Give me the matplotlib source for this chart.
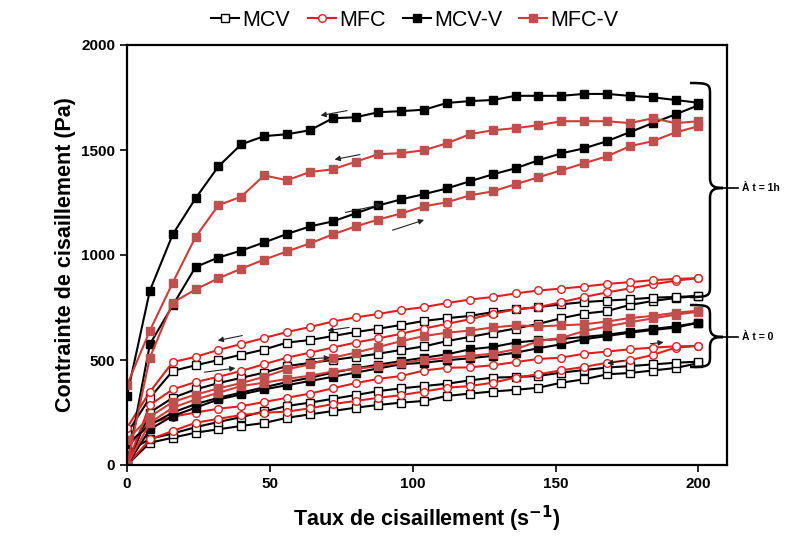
import matplotlib
matplotlib.use('Agg')
import matplotlib.pyplot as plt
from matplotlib.path import Path
from matplotlib.patches import PathPatch

plt.rcParams['font.family'] = ['Liberation Sans', 'DejaVu Sans']

# taux de cisaillement (s-1)
shear = [0, 8, 16, 24, 32, 40, 48, 56, 64, 72, 80, 88, 96, 104, 112, 120, 128,
         136, 144, 152, 160, 168, 176, 184, 192, 200]

# contrainte (Pa) - a t = 1h, montee / descente
mcvv_1h_down = [330, 830, 1098, 1270, 1422, 1527, 1566, 1575, 1594, 1651, 1656, 1680, 1685,
                1692, 1724, 1733, 1738, 1758, 1758, 1758, 1767, 1767, 1758, 1751, 1738, 1725]
mcvv_1h_up = [0, 575, 760, 943, 988, 1021, 1060, 1100, 1136, 1160, 1198, 1236, 1265,
              1290, 1317, 1351, 1384, 1413, 1451, 1484, 1508, 1542, 1585, 1628, 1670, 1713]
mfcv_1h_down = [380, 640, 868, 1086, 1237, 1278, 1379, 1356, 1395, 1408, 1444, 1480, 1485,
                1499, 1532, 1575, 1594, 1604, 1618, 1637, 1637, 1637, 1628, 1651, 1628, 1637]
mfcv_1h_up = [0, 511, 773, 836, 889, 935, 978, 1017, 1055, 1098, 1136, 1169, 1198,
              1232, 1251, 1284, 1303, 1337, 1370, 1403, 1437, 1470, 1518, 1542, 1584, 1613]
mfc_1h_down = [178, 348, 490, 515, 548, 576, 605, 633, 657, 683, 703, 719, 738,
               752, 771, 788, 800, 817, 831, 840, 850, 862, 871, 880, 886, 890]
mfc_1h_up = [0, 286, 360, 395, 420, 448, 480, 511, 535, 559, 583, 603, 625,
             650, 672, 694, 720, 741, 752, 775, 800, 822, 841, 860, 878, 890]
mcv_1h_down = [150, 320, 448, 475, 500, 525, 550, 583, 595, 614, 633, 649, 667,
               686, 699, 710, 728, 741, 752, 765, 776, 783, 789, 797, 800, 805]
mcv_1h_up = [0, 250, 320, 360, 390, 415, 440, 471, 486, 500, 515, 530, 548,
             565, 590, 610, 630, 650, 672, 699, 721, 733, 762, 781, 795, 805]

# a t = 0
mfcv_0_down = [120, 230, 300, 335, 365, 390, 420, 456, 479, 511, 535, 562, 590,
               614, 630, 640, 655, 665, 660, 665, 670, 683, 700, 710, 725, 735]
mfcv_0_up = [0, 201, 273, 312, 344, 376, 392, 410, 425, 445, 458, 470, 487,
             500, 511, 520, 530, 551, 590, 605, 638, 660, 680, 698, 716, 730]
mcvv_0_down = [100, 190, 250, 290, 320, 345, 370, 395, 415, 440, 460, 478, 495,
               511, 527, 551, 562, 583, 594, 600, 610, 620, 635, 648, 660, 678]
mcvv_0_up = [0, 170, 233, 273, 312, 336, 360, 380, 400, 420, 440, 460, 480,
             487, 499, 508, 520, 535, 556, 575, 599, 614, 630, 643, 654, 678]
mfc_0_down = [83, 200, 230, 250, 268, 280, 300, 320, 340, 365, 390, 410, 424,
              450, 463, 465, 475, 490, 505, 511, 530, 540, 551, 559, 565, 567]
mfc_0_up = [0, 122, 162, 201, 220, 238, 249, 254, 270, 290, 305, 320, 333,
            350, 368, 376, 392, 416, 432, 451, 467, 487, 499, 524, 559, 567]
mcv_0_down = [60, 125, 150, 180, 205, 228, 255, 281, 297, 315, 333, 352, 365,
              376, 387, 403, 416, 419, 424, 440, 452, 464, 471, 479, 487, 492]
mcv_0_up = [0, 106, 130, 154, 170, 186, 200, 225, 241, 257, 273, 286, 297,
            305, 329, 340, 350, 358, 368, 392, 408, 432, 438, 450, 462, 485]

labels = ['MCV', 'MFC', 'MCV-V', 'MFC-V']

styles = {
    'MCV': dict(color='black', marker='s', mfc='white', mec='black', ms=5.5),
    'MFC': dict(color='#e01e1e', marker='o', mfc='white', mec='#e01e1e', ms=5.5),
    'MCV-V': dict(color='black', marker='s', mfc='black', mec='black', ms=6),
    'MFC-V': dict(color='#d43a36', marker='s', mfc='#c0504d', mec='#c0504d', ms=6),
}

curves = [
    ('MCV', mcv_0_up), ('MCV', mcv_0_down), ('MCV', mcv_1h_up), ('MCV', mcv_1h_down),
    ('MFC', mfc_0_up), ('MFC', mfc_0_down), ('MFC', mfc_1h_up), ('MFC', mfc_1h_down),
    ('MCV-V', mcvv_0_up), ('MCV-V', mcvv_0_down), ('MCV-V', mcvv_1h_up), ('MCV-V', mcvv_1h_down),
    ('MFC-V', mfcv_0_up), ('MFC-V', mfcv_0_down), ('MFC-V', mfcv_1h_up), ('MFC-V', mfcv_1h_down),
]

fig = plt.figure(figsize=(7.95, 5.40), dpi=100)
ax = fig.add_axes([127 / 795, 1 - 465 / 540, 600 / 795, 420 / 540])

done = set()
for name, vals in curves:
    lab = name if name not in done else None
    done.add(name)
    ax.plot(shear, vals, lw=1.5, mew=1.0, label=lab, **styles[name])

# fleches (sens du balayage)
arrows = [((78, 1690), (66.8, 1662)), ((82.5, 1481), (71.7, 1452)),
          ((75.5, 1200), (90.2, 1243)), ((92, 1114), (104.9, 1171)),
          ((41.3, 619), (30.8, 590)), ((78.7, 657), (69.2, 638)),
          ((26.1, 440), (38.9, 463)), ((63, 505), (72, 512)),
          ((182.2, 576), (188.8, 586)), ((174.8, 500), (167.1, 481))]
for tail, head in arrows:
    ax.annotate('', xy=head, xytext=tail,
                arrowprops=dict(arrowstyle='-|>', color='#222222', lw=0.8, mutation_scale=8))

ax.set_xlim(0, 210)
ax.set_ylim(0, 2000)
ax.set_xticks([0, 50, 100, 150, 200])
ax.set_yticks([0, 500, 1000, 1500, 2000])
for lab in ax.get_xticklabels() + ax.get_yticklabels():
    lab.set_fontweight('bold')
    lab.set_fontsize(11)
ax.tick_params(direction='out', length=5, width=1.2, top=False, right=False)
for s in ax.spines.values():
    s.set_linewidth(1.6)
ax.set_xlabel('Taux de cisaillement (s$^{\\mathbf{-1}}$)', fontsize=15.5, fontweight='bold', labelpad=9)
ax.set_ylabel('Contrainte de cisaillement (Pa)', fontsize=15.5, fontweight='bold', labelpad=4)

ax.legend(loc='center', bbox_to_anchor=(415 / 795, 1 - 20 / 540), bbox_transform=fig.transFigure,
          ncol=4, frameon=False, fontsize=15.5, handlelength=1.3, handletextpad=0.15,
          columnspacing=0.8, borderaxespad=0)


def brace(xs, yt, yb, ym, text):
    # accolade en pixels (origine en haut a gauche)
    pts = [(xs - 20, yt), (xs - 2, yt), (xs, yt + 1), (xs, yt + 10),
           (xs, ym - 10), (xs, ym - 2), (xs + 4, ym), (xs + 13, ym),
           (xs + 4, ym), (xs, ym + 2), (xs, ym + 10),
           (xs, yb - 10), (xs, yb - 1), (xs - 2, yb), (xs - 20, yb)]
    codes = [Path.MOVETO, Path.CURVE4, Path.CURVE4, Path.CURVE4,
             Path.LINETO, Path.CURVE4, Path.CURVE4, Path.CURVE4,
             Path.CURVE4, Path.CURVE4, Path.CURVE4,
             Path.LINETO, Path.CURVE4, Path.CURVE4, Path.CURVE4]
    verts = [(x / 795, 1 - y / 540) for x, y in pts]
    fig.patches.append(PathPatch(Path(verts, codes), fill=False, lw=1.8, color='black',
                                 transform=fig.transFigure))
    fig.add_artist(plt.Line2D([(xs + 13) / 795, (xs + 28) / 795], [1 - ym / 540, 1 - ym / 540],
                              color='black', lw=1.2, transform=fig.transFigure))
    fig.text((xs + 32) / 795, 1 - ym / 540, text, fontsize=7.5, fontweight='bold', va='center')


brace(710, 83, 297, 188, 'À t = 1h')
brace(710, 305, 367, 337, 'À t = 0')

fig.savefig('out.png', dpi=100)
